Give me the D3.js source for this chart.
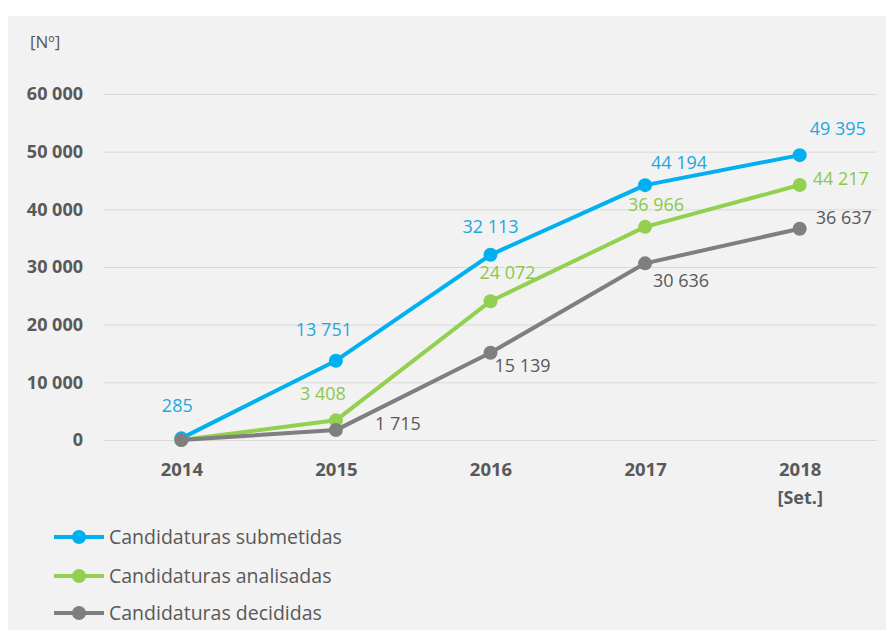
<!DOCTYPE html>
<html>
<head>
<meta charset="utf-8">
<script src="https://cdn.jsdelivr.net/npm/d3@7"></script>
<style>
  html, body { margin: 0; padding: 0; background: #ffffff; }
  svg { display: block; }
</style>
</head>
<body>
<svg id="chart" width="888" height="630"></svg>
<script>
// ---- data ----
const years = ["2014", "2015", "2016", "2017", "2018"];
const yearSubLabels = ["", "", "", "", "[Set.]"];
const submetidas = [285, 13751, 32113, 44194, 49395];
const analisadas = [0, 3408, 24072, 36966, 44217];
const decididas = [0, 1715, 15139, 30636, 36637];
const seriesNames = ["Candidaturas submetidas", "Candidaturas analisadas", "Candidaturas decididas"];
const yTicks = [0, 10000, 20000, 30000, 40000, 50000, 60000];
const unitLabel = "[Nº]";
// which points show a value label
const showLabel = [
  [true, true, true, true, true],
  [false, true, true, true, true],
  [false, true, true, true, true]
];
// label centre offsets from the point, in px (style only)
const labelOffsets = [
  [[-4, -33], [-12, -31], [0, -28], [34, -23], [38, -27]],
  [[0, 0], [-13, -27], [17, -29], [11, -22], [41, -6]],
  [[0, 0], [62, -7], [32, 13], [36, 17], [44, -11]]
];

const colors = ["#00b0f0", "#92d050", "#7f7f7f"];
const labelColors = ["#1ea7dd", "#8cc84b", "#595959"];

const svg = d3.select("#chart");

svg.append("rect").attr("x", 8).attr("y", 16).attr("width", 878).attr("height", 614).attr("fill", "#f2f2f2");

const FONT = "'Open Sans', Lato, sans-serif";
const x = d3.scalePoint().domain(years).range([104, 877]).padding(0.5);
const y = d3.scaleLinear().domain([0, 60000]).range([440, 94]);

const loc = d3.formatLocale({ decimal: ",", thousands: " ", grouping: [3], currency: ["", "€"] });
const fmt = loc.format(",d");

// gridlines
const yAxis = d3.axisLeft(y).tickValues(yTicks).tickSize(-(877 - 104)).tickFormat(fmt).tickPadding(21);
const gy = svg.append("g").attr("transform", "translate(104,0)").call(yAxis);
gy.select(".domain").remove();
gy.selectAll(".tick line").attr("stroke", "#d9d9d9").attr("stroke-width", 1);
gy.selectAll(".tick text").attr("fill", "#595959").attr("font-family", FONT).attr("font-weight", "bold").attr("font-size", 18);

// x axis
const xAxis = d3.axisBottom(x).tickSize(0).tickPadding(20);
const gx = svg.append("g").attr("transform", "translate(0,440)").call(xAxis);
gx.select(".domain").remove();
gx.selectAll(".tick text").attr("fill", "#595959").attr("font-family", FONT).attr("font-weight", "bold").attr("font-size", 18.5)
  .attr("y", 30).attr("dy", "0.35em");
gx.selectAll(".tick").each(function(d, i) {
  if (yearSubLabels[i]) {
    d3.select(this).append("text")
      .attr("y", 58).attr("dy", "0.35em").attr("fill", "#595959").attr("font-family", FONT)
      .attr("font-weight", "bold").attr("font-size", 18).attr("text-anchor", "middle")
      .text(yearSubLabels[i]);
  }
});

// unit label
svg.append("text").attr("x", 30).attr("y", 42).attr("dy", "0.35em").attr("fill", "#595959")
  .attr("font-family", FONT).attr("font-size", 17).text(unitLabel);

const allSeries = [submetidas, analisadas, decididas];
const line = d3.line().x((d, i) => x(years[i])).y(d => y(d));

// draw in series order (later series on top, as in the reference)
[0, 1, 2].forEach(s => {
  const g = svg.append("g");
  g.append("path").datum(allSeries[s]).attr("d", line)
    .attr("fill", "none").attr("stroke", colors[s]).attr("stroke-width", 4).attr("stroke-linejoin", "round");
  g.selectAll("circle").data(allSeries[s]).join("circle")
    .attr("cx", (d, i) => x(years[i])).attr("cy", d => y(d)).attr("r", 7).attr("fill", colors[s]);
});

[0, 1, 2].forEach(s => {
  allSeries[s].forEach((v, i) => {
    if (!showLabel[s][i]) return;
    const o = labelOffsets[s][i];
    svg.append("text")
      .attr("x", x(years[i]) + o[0]).attr("y", y(v) + o[1])
      .attr("dy", "0.36em")
      .attr("text-anchor", "middle")
      .attr("fill", labelColors[s]).attr("font-family", FONT).attr("font-size", 18)
      .text(fmt(v));
  });
});

// legend
const legY = [537, 576, 613];
seriesNames.forEach((name, s) => {
  const g = svg.append("g").attr("transform", `translate(0,${legY[s]})`);
  g.append("line").attr("x1", 54).attr("x2", 104).attr("y1", 0).attr("y2", 0)
    .attr("stroke", colors[s]).attr("stroke-width", 4);
  g.append("circle").attr("cx", 79).attr("cy", 0).attr("r", 7).attr("fill", colors[s]);
  g.append("text").attr("x", 109).attr("y", 0).attr("dy", "0.35em")
    .attr("fill", "#595959").attr("font-family", FONT).attr("font-size", 19.5).text(name);
});
</script>
</body>
</html>
